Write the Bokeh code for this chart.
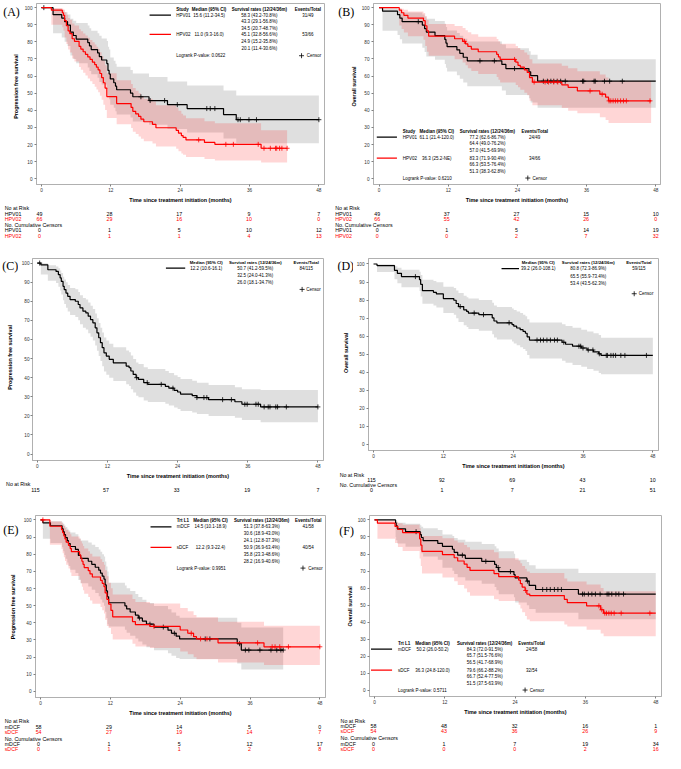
import numpy as np
from bokeh.plotting import figure
from bokeh.models import Range1d, FixedTicker
from bokeh.layouts import column, row
from bokeh.embed import file_html
from bokeh.resources import INLINE
from bokeh.core.properties import value

# ======================= DATA =======================
TICKS_X = [0, 12, 24, 36, 48]
TICKS_Y = [0, 10, 20, 30, 40, 50, 60, 70, 80, 90, 100]
XLABEL = "Time since treatment initiation (months)"
HEADERS_STUDY = ["Study", "Median (95% CI)", "Survival rates (12/24/36m)", "Events/Total"]
HEADERS_TRT = ["Trt L1", "Median (95% CI)", "Survival rates (12/24/36m)", "Events/Total"]
HEADERS_ONE = ["Median (95% CI)", "Survival rates (12/24/36m)", "Events/Total"]

# ---- Panel A : PFS by study ----
A_HPV01_T = [0, 2.0, 3.5, 4.0, 4.5, 5.0, 5.5, 6.0, 8.0, 8.3, 8.6, 9.7, 10.0, 10.4, 11.3, 11.5, 11.7, 11.9, 12.5, 12.8, 13.0, 15.4, 15.8, 18.6, 21.8, 25.2, 31.5, 33.7]
A_HPV01_S = [100, 95.9, 93.9, 91.8, 89.8, 85.7, 83.7, 81.6, 79.6, 77.6, 75.5, 73.5, 71.4, 69.4, 67.3, 63.3, 61.2, 58.3, 56.1, 54.1, 52.0, 50.0, 47.9, 45.7, 43.3, 41.0, 37.5, 34.5]
A_HPV01_LO = [100, 85.0, 82.5, 80.0, 77.5, 72.0, 70.0, 67.5, 65.0, 63.0, 61.0, 59.0, 56.5, 55.0, 52.5, 48.5, 46.5, 43.2, 41.5, 39.5, 37.5, 35.8, 33.5, 31.5, 29.1, 27.0, 23.5, 20.7]
A_HPV01_HI = [100, 99.4, 98.4, 97.3, 96.0, 93.5, 92.4, 91.0, 89.6, 88.0, 86.5, 85.0, 83.5, 82.0, 80.5, 77.2, 75.5, 70.8, 69.0, 67.2, 65.4, 63.5, 61.5, 59.4, 56.8, 54.5, 51.5, 48.7]
A_HPV01_END = 48.0
A_HPV01_CENS = [0.4, 17.2, 18.8, 21.3, 23.5, 28.6, 29.2, 30.0, 34.0, 34.4, 35.9, 37.2, 48.0]

A_HPV02_T = [0, 1.7, 3.6, 3.8, 4.0, 4.3, 4.6, 4.9, 5.3, 5.7, 6.5, 6.8, 7.2, 7.6, 8.0, 8.4, 8.8, 9.2, 9.5, 9.8, 10.1, 10.4, 10.7, 11.0, 11.3, 13.0, 15.5, 15.8, 16.3, 16.8, 17.2, 17.7, 19.2, 19.8, 23.3, 23.7, 24.2, 24.5, 25.0, 28.2, 30.0, 38.0]
A_HPV02_S = [100, 98.5, 97.0, 95.5, 92.4, 89.4, 86.4, 84.8, 81.8, 80.3, 77.3, 75.8, 74.2, 72.7, 71.2, 69.7, 68.2, 66.7, 65.2, 63.6, 61.5, 59.1, 56.1, 53.0, 48.0, 43.9, 41.7, 39.4, 37.9, 36.4, 34.8, 33.3, 31.8, 29.8, 28.3, 26.7, 25.2, 24.2, 22.7, 21.2, 20.1, 17.8]
A_HPV02_LO = [100, 90.0, 88.5, 86.5, 82.5, 78.8, 75.5, 73.7, 70.2, 68.5, 65.3, 63.7, 62.0, 60.3, 58.6, 57.0, 55.4, 53.8, 52.2, 50.6, 48.5, 46.1, 43.2, 40.2, 35.5, 31.8, 29.7, 27.5, 26.1, 24.7, 23.3, 21.9, 20.6, 18.8, 17.5, 16.1, 14.8, 14.0, 12.7, 11.5, 10.7, 9.5]
A_HPV02_HI = [100, 99.8, 99.4, 98.9, 97.5, 95.8, 94.0, 92.9, 90.7, 89.6, 87.3, 86.2, 84.9, 83.7, 82.4, 81.1, 79.8, 78.5, 77.2, 75.8, 73.9, 71.7, 69.0, 66.3, 61.7, 57.5, 55.3, 53.0, 51.4, 49.9, 48.2, 46.7, 45.1, 43.0, 41.5, 39.8, 38.0, 37.0, 35.3, 33.6, 32.4, 28.3]
A_HPV02_END = 42.5
A_HPV02_CENS = [27.2, 31.9, 33.2, 37.5, 38.5, 39.6, 40.5, 40.7, 41.2, 41.6, 42.5]

A_GROUPS = ["HPV01", "HPV02"]
A_MEDIAN = ["15.6 (11.2-34.5)", "11.0 (9.3-16.0)"]
A_RATES = [["58.3 (43.2-70.8%)", "43.3 (29.1-56.8%)", "34.5 (20.7-48.7%)"],
           ["45.1 (32.8-56.6%)", "24.9 (15.2-35.8%)", "20.1 (11.4-30.6%)"]]
A_EVENTS = ["31/49", "53/66"]
A_PVALUE = "Logrank P-value: 0.0622"
A_AT_RISK = [[49, 28, 17, 9, 7], [66, 29, 16, 10, 0]]
A_CUM_CENS = [[0, 1, 5, 10, 12], [0, 1, 1, 4, 13]]

# ---- Panel B : OS by study ----
B_HPV01_T = [0, 0.6, 3.2, 3.6, 4.0, 7.5, 7.9, 8.2, 9.7, 11.4, 11.6, 11.8, 13.5, 14.0, 14.6, 15.3, 21.3, 22.0, 26.0, 26.3, 27.5]
B_HPV01_S = [100, 97.9, 95.9, 93.9, 91.8, 89.8, 87.7, 85.7, 83.6, 81.4, 79.3, 77.2, 75.3, 73.3, 71.0, 68.9, 66.8, 64.4, 62.5, 60.2, 57.0]
B_HPV01_LO = [100, 86.5, 84.0, 81.5, 79.0, 76.5, 74.0, 71.5, 69.5, 67.0, 64.8, 62.6, 60.5, 58.5, 56.2, 54.0, 51.5, 49.0, 47.0, 44.5, 41.5]
B_HPV01_HI = [100, 99.7, 99.0, 98.1, 97.1, 96.0, 94.8, 93.5, 92.2, 90.6, 88.7, 86.7, 85.2, 83.6, 81.8, 80.2, 78.5, 76.2, 74.5, 72.5, 69.9]
B_HPV01_END = 48.0
B_HPV01_CENS = [6.8, 17.5, 20.0, 23.5, 28.5, 29.2, 29.8, 30.3, 30.9, 31.5, 32.3, 35.3, 35.5, 37.3, 37.5, 39.1, 40.0, 42.2]

B_HPV02_T = [0, 3.5, 3.9, 4.3, 5.0, 7.7, 8.0, 8.3, 8.6, 13.1, 14.5, 15.0, 15.4, 16.0, 17.2, 20.4, 20.7, 21.0, 23.7, 24.1, 24.5, 25.2, 25.7, 26.1, 26.6, 31.7, 32.8, 34.4, 38.3, 39.3, 39.8]
B_HPV02_S = [100, 98.5, 97.0, 95.5, 93.9, 92.4, 89.4, 86.4, 83.3, 81.8, 80.3, 78.8, 77.3, 75.8, 74.2, 72.7, 71.2, 69.7, 68.2, 66.3, 65.2, 63.6, 62.1, 59.1, 56.5, 54.9, 53.4, 51.3, 49.4, 47.7, 45.5]
B_HPV02_LO = [100, 89.5, 87.5, 85.5, 83.2, 81.2, 77.5, 74.2, 71.9, 69.8, 68.0, 66.3, 64.6, 63.0, 61.2, 59.5, 57.8, 56.2, 54.8, 53.5, 52.0, 50.3, 48.8, 45.6, 43.0, 41.3, 39.8, 38.3, 36.0, 34.3, 32.5]
B_HPV02_HI = [100, 99.8, 99.4, 98.8, 97.8, 96.8, 95.0, 92.8, 90.4, 89.3, 88.1, 86.8, 85.6, 84.4, 83.0, 81.6, 80.3, 78.9, 77.5, 76.4, 75.2, 73.8, 72.5, 69.8, 67.4, 66.0, 64.5, 62.8, 60.9, 59.2, 57.2]
B_HPV02_END = 47.2
B_HPV02_CENS = [14.8, 23.5, 26.9, 28.8, 29.4, 30.3, 31.0, 36.6, 38.7, 39.9, 40.2, 40.6, 41.0, 41.4, 41.9, 42.4, 42.9, 47.0]

B_GROUPS = ["HPV01", "HPV02"]
B_MEDIAN = ["61.1 (21.4-120.0)", "36.3 (25.2-NE)"]
B_RATES = [["77.2 (62.6-86.7%)", "64.4 (49.0-76.2%)", "57.0 (41.5-69.9%)"],
           ["83.3 (71.9-90.4%)", "66.3 (53.5-76.4%)", "51.3 (38.3-62.8%)"]]
B_EVENTS = ["24/49", "34/66"]
B_PVALUE = "Logrank P-value: 0.6210"
B_AT_RISK = [[49, 37, 27, 15, 10], [66, 55, 42, 26, 0]]
B_CUM_CENS = [[0, 1, 5, 14, 19], [0, 0, 2, 7, 32]]

# ---- Panel C : PFS overall ----
C_T = [0, 0.6, 1.8, 3.2, 3.6, 3.9, 4.1, 4.4, 4.6, 4.9, 5.2, 5.6, 6.5, 7.0, 7.3, 7.8, 8.3, 8.7, 9.1, 9.5, 9.9, 10.2, 10.5, 10.8, 11.1, 11.4, 11.8, 12.3, 13.0, 15.2, 15.7, 16.0, 16.4, 16.9, 17.3, 18.2, 18.9, 21.9, 22.5, 23.4, 24.0, 24.5, 26.5, 27.3, 29.3, 33.8, 35.0, 38.2]
C_S = [100, 99.1, 96.5, 95.6, 93.9, 92.2, 90.4, 87.8, 86.1, 84.3, 82.6, 80.9, 80.0, 78.3, 76.5, 74.8, 73.9, 72.2, 70.4, 68.7, 66.1, 63.5, 60.9, 58.3, 55.7, 53.0, 51.3, 49.6, 47.8, 46.1, 45.2, 43.5, 41.7, 40.0, 39.1, 37.4, 36.5, 35.5, 34.5, 33.4, 32.5, 31.4, 30.6, 29.6, 28.5, 27.4, 26.1, 24.7]
C_LO = [100, 94.0, 90.8, 89.6, 87.6, 85.6, 83.5, 80.5, 78.6, 76.6, 74.7, 72.8, 71.8, 70.0, 68.0, 66.1, 65.2, 63.3, 61.4, 59.5, 56.8, 54.1, 51.4, 48.7, 46.0, 43.3, 41.6, 39.9, 38.2, 36.5, 35.6, 33.9, 32.2, 30.6, 29.7, 28.1, 27.3, 26.3, 25.4, 24.4, 23.6, 22.6, 21.8, 21.0, 20.0, 19.0, 17.9, 16.7]
C_HI = [100, 99.9, 98.8, 98.2, 97.3, 96.1, 94.8, 92.8, 91.4, 89.9, 88.5, 87.0, 86.3, 84.8, 83.2, 81.7, 80.9, 79.3, 77.6, 76.0, 73.6, 71.1, 68.6, 66.1, 63.6, 61.0, 59.4, 57.7, 55.9, 54.2, 53.3, 51.6, 49.8, 48.0, 47.2, 45.4, 44.5, 43.5, 42.5, 41.3, 40.4, 39.3, 38.4, 37.4, 36.2, 35.0, 33.9, 33.5]
C_END = 48.0
C_CENS = [0.4, 17.0, 18.8, 21.2, 23.2, 27.3, 28.5, 29.0, 31.7, 33.2, 35.5, 35.9, 37.4, 37.8, 38.8, 39.5, 39.8, 40.8, 41.1, 42.6, 48.0]
C_MEDIAN = "12.2 (10.6-16.1)"
C_RATES = ["50.7 (41.2-59.5%)", "32.5 (24.0-41.3%)", "26.0 (18.1-34.7%)"]
C_EVENTS = "84/115"
C_AT_RISK = [115, 57, 33, 19, 7]

# ---- Panel D : OS overall ----
D_T = [0, 0.6, 3.6, 4.1, 4.8, 7.9, 8.1, 8.4, 10.3, 10.8, 12.0, 13.8, 14.2, 14.6, 15.5, 16.0, 16.3, 18.1, 20.4, 20.7, 21.2, 23.8, 24.1, 24.6, 25.2, 25.7, 26.1, 26.4, 26.8, 32.4, 33.0, 34.2, 35.7, 36.7, 37.8, 38.7, 39.1]
D_S = [100, 99.1, 96.5, 94.8, 93.0, 91.3, 88.7, 85.2, 84.3, 83.4, 80.8, 79.9, 78.1, 76.4, 74.6, 73.7, 72.8, 71.9, 70.1, 68.4, 67.4, 66.4, 65.5, 64.5, 63.6, 62.6, 61.6, 59.6, 57.8, 56.6, 55.5, 54.4, 53.4, 52.3, 51.3, 50.2, 49.3]
D_LO = [100, 95.5, 91.5, 89.3, 87.1, 85.0, 82.0, 78.0, 77.0, 75.9, 72.8, 71.8, 69.9, 67.9, 66.0, 65.0, 64.0, 63.0, 61.1, 59.2, 58.1, 57.0, 55.9, 54.9, 53.8, 52.8, 51.7, 49.6, 47.6, 46.3, 45.2, 44.0, 43.0, 41.8, 40.8, 39.6, 38.8]
D_HI = [100, 99.9, 98.8, 97.9, 96.8, 95.7, 93.9, 91.3, 90.6, 89.9, 87.4, 86.7, 85.3, 83.9, 82.4, 81.6, 80.9, 80.1, 78.5, 77.0, 76.2, 75.3, 74.5, 73.6, 72.8, 71.9, 71.0, 69.3, 67.6, 66.6, 65.6, 64.6, 63.6, 62.6, 61.6, 60.6, 59.1]
D_END = 48.0
D_CENS = [7.2, 14.9, 17.3, 18.9, 23.3, 28.1, 28.7, 29.2, 29.8, 30.4, 31.1, 31.6, 32.7, 35.3, 35.6, 36.0, 36.9, 37.7, 38.8, 40.0, 40.2, 40.8, 41.2, 41.6, 42.5, 43.2, 46.9]
D_MEDIAN = "39.2 (26.0-108.1)"
D_RATES = ["80.8 (72.3-86.9%)", "65.5 (55.9-73.4%)", "53.4 (43.5-62.3%)"]
D_EVENTS = "59/115"
D_AT_RISK = [115, 92, 69, 43, 10]
D_CUM_CENS = [0, 1, 7, 21, 51]

# ---- Panel E : PFS by first-line treatment ----
E_MDCF_T = [0, 0.4, 1.7, 3.7, 3.9, 4.1, 4.3, 4.6, 4.8, 5.1, 6.0, 6.5, 6.9, 8.2, 8.8, 9.4, 10.0, 10.3, 10.6, 10.9, 11.1, 11.3, 11.5, 11.7, 14.5, 14.8, 15.4, 16.3, 16.8, 17.5, 18.2, 19.5, 21.9, 22.5, 23.3, 23.9, 33.8, 34.5]
E_MDCF_S = [100, 98.3, 96.6, 94.8, 93.1, 91.4, 89.7, 87.9, 86.2, 84.5, 82.8, 79.3, 77.6, 75.9, 74.1, 72.4, 70.7, 69.0, 67.2, 65.5, 62.1, 58.6, 55.2, 51.7, 49.9, 48.1, 46.3, 44.5, 42.8, 41.0, 39.2, 37.5, 35.7, 33.9, 32.2, 30.6, 27.8, 24.1]
E_MDCF_LO = [100, 89.0, 86.5, 84.0, 81.8, 79.6, 77.4, 75.2, 73.1, 71.0, 69.0, 65.0, 63.1, 61.2, 59.3, 57.4, 55.5, 53.6, 51.8, 50.0, 46.4, 42.8, 39.2, 37.8, 36.0, 34.2, 32.5, 30.8, 29.1, 27.4, 25.7, 24.0, 22.3, 20.8, 19.4, 18.9, 16.3, 12.8]
E_MDCF_HI = [100, 99.8, 99.2, 98.5, 97.7, 96.8, 95.9, 94.9, 93.8, 92.7, 91.6, 89.2, 88.0, 86.8, 85.5, 84.2, 82.8, 81.4, 80.0, 78.6, 75.8, 72.9, 69.9, 63.3, 61.7, 60.1, 58.5, 56.8, 55.1, 53.4, 51.6, 49.8, 47.9, 46.0, 44.1, 43.0, 40.0, 37.3]
E_MDCF_END = 41.7
E_MDCF_CENS = [17.0, 18.8, 21.1, 23.0, 28.3, 29.1, 34.2, 35.2, 35.8, 37.7, 39.6, 40.6, 41.3, 41.7]

E_SDCF_T = [0, 1.6, 3.6, 3.8, 4.0, 4.2, 4.4, 4.8, 5.1, 5.3, 6.7, 6.9, 7.1, 7.3, 7.5, 8.2, 8.5, 8.9, 10.3, 10.6, 10.9, 11.1, 11.4, 11.7, 12.1, 12.4, 15.8, 16.3, 18.8, 24.0, 25.3, 26.3, 26.8, 30.5, 38.4]
E_SDCF_S = [100, 96.3, 94.4, 92.6, 90.7, 88.9, 87.0, 85.2, 83.3, 81.5, 79.6, 77.8, 75.9, 74.1, 72.2, 70.4, 68.5, 66.7, 64.8, 63.0, 61.1, 57.4, 53.7, 50.9, 47.2, 43.5, 40.7, 38.9, 37.9, 35.8, 33.9, 31.9, 30.6, 28.3, 26.0]
E_SDCF_LO = [100, 85.5, 83.0, 80.6, 78.3, 76.0, 73.8, 71.6, 69.4, 67.3, 65.2, 63.1, 61.0, 59.0, 57.0, 55.0, 53.0, 51.1, 49.2, 47.3, 45.4, 41.8, 38.2, 36.9, 33.5, 30.2, 27.8, 26.2, 25.3, 23.3, 21.6, 19.9, 18.8, 16.9, 15.4]
E_SDCF_HI = [100, 99.1, 98.3, 97.4, 96.4, 95.3, 94.1, 92.9, 91.6, 90.3, 89.0, 87.6, 86.2, 84.8, 83.3, 81.8, 80.3, 78.7, 77.1, 75.5, 73.9, 70.6, 67.2, 63.4, 60.1, 56.5, 53.9, 52.2, 51.2, 48.6, 46.7, 44.6, 43.3, 40.6, 38.3]
E_SDCF_END = 48.0
E_SDCF_CENS = [0.4, 19.5, 25.9, 27.5, 28.6, 37.3, 39.8, 40.3, 41.1, 42.6, 48.0]

E_GROUPS = ["mDCF", "sDCF"]
E_MEDIAN = ["14.5 (10.1-18.9)", "12.2 (9.3-22.4)"]
E_RATES = [["51.3 (37.8-63.3%)", "30.6 (18.9-43.0%)", "24.1 (12.8-37.3%)"],
           ["50.9 (36.9-63.4%)", "35.8 (23.3-48.6%)", "28.2 (16.9-40.6%)"]]
E_EVENTS = ["41/58", "40/54"]
E_PVALUE = "Logrank P-value: 0.9951"
E_AT_RISK = [[58, 29, 14, 5, 0], [54, 27, 19, 14, 7]]
E_CUM_CENS = [[0, 1, 5, 12, 17], [0, 1, 1, 2, 8]]

# ---- Panel F : OS by first-line treatment ----
F_MDCF_T = [0, 3.6, 3.7, 3.9, 5.3, 7.8, 8.0, 8.3, 10.8, 11.6, 13.3, 13.6, 14.2, 15.5, 18.3, 20.5, 20.8, 21.2, 23.8, 24.0, 26.0, 26.4, 27.5, 34.8]
F_MDCF_S = [100, 98.3, 96.6, 94.8, 93.1, 91.4, 89.7, 87.9, 86.2, 84.5, 82.8, 81.0, 79.3, 77.5, 75.7, 73.9, 72.1, 69.7, 67.9, 66.0, 64.1, 61.6, 59.2, 56.5]
F_MDCF_LO = [100, 90.0, 88.1, 86.2, 84.3, 82.4, 80.5, 78.6, 76.7, 72.0, 70.2, 68.3, 66.4, 64.5, 62.6, 60.7, 58.8, 56.4, 54.6, 51.5, 50.0, 47.8, 45.5, 41.7]
F_MDCF_HI = [100, 99.7, 99.1, 98.4, 97.7, 96.9, 96.0, 95.1, 94.1, 91.5, 90.5, 89.4, 88.3, 87.2, 85.9, 84.6, 83.3, 81.6, 80.2, 76.6, 75.3, 73.4, 71.4, 68.9]
F_MDCF_END = 48.0
F_MDCF_CENS = [7.1, 15.0, 19.0, 21.1, 23.2, 26.1, 28.7, 29.4, 30.0, 30.7, 31.3, 31.9, 35.5, 35.8, 36.5, 37.1, 37.7, 38.5, 39.7, 40.0, 40.5, 41.2, 41.7, 42.5]

F_SDCF_T = [0, 0.5, 3.5, 4.0, 4.8, 7.7, 7.9, 8.1, 11.6, 13.6, 14.2, 15.3, 15.8, 16.3, 20.4, 21.2, 24.6, 24.9, 25.2, 25.7, 26.0, 26.5, 32.4, 32.9, 36.2, 38.6, 39.1]
F_SDCF_S = [100, 98.1, 96.2, 94.4, 92.6, 88.9, 85.2, 81.5, 79.6, 77.8, 75.9, 74.1, 72.2, 70.4, 68.5, 66.7, 64.7, 62.6, 60.6, 58.6, 56.5, 55.6, 53.4, 51.5, 49.6, 47.3, 45.3]
F_SDCF_LO = [100, 89.0, 86.5, 84.1, 81.8, 77.3, 72.9, 68.6, 66.2, 64.0, 61.8, 59.7, 57.6, 55.5, 53.5, 52.4, 50.2, 48.0, 45.8, 43.7, 41.6, 40.6, 38.6, 37.5, 35.5, 33.4, 31.8]
F_SDCF_HI = [100, 99.7, 99.0, 98.1, 97.2, 95.1, 92.9, 90.6, 89.2, 88.0, 86.7, 85.3, 83.9, 82.5, 81.0, 77.5, 76.1, 74.6, 73.0, 71.4, 69.7, 68.9, 65.6, 63.9, 62.1, 60.0, 58.1]
F_SDCF_END = 48.0
F_SDCF_CENS = [25.8, 38.3, 38.8, 39.3, 39.6, 40.0, 40.4, 40.9, 42.1, 47.0]

F_GROUPS = ["mDCF", "sDCF"]
F_MEDIAN = ["50.2 (26.0-50.2)", "36.3 (24.8-120.0)"]
F_RATES = [["84.3 (72.0-91.5%)", "65.7 (51.5-76.6%)", "56.5 (41.7-68.9%)"],
           ["79.6 (66.2-88.2%)", "66.7 (52.4-77.5%)", "51.5 (37.5-63.9%)"]]
F_EVENTS = ["24/58", "32/54"]
F_PVALUE = "Logrank P-value: 0.5711"
F_AT_RISK = [[58, 48, 32, 16, 1], [54, 43, 36, 26, 9]]
F_CUM_CENS = [[0, 1, 7, 19, 34], [0, 0, 0, 2, 16]]

# ======================= STYLE / LAYOUT =======================
SX = 665 / 681
SY = 753 / 769
FONT = "Liberation Sans"
BLACK = "#000000"
RED = "#ff0000"
GRAY_BAND = "#7f7f7f"
FRAME = "#b0b0b0"


def bare(p):
    p.xaxis.visible = False
    p.yaxis.visible = False
    p.xgrid.visible = False
    p.ygrid.visible = False
    p.outline_line_color = None
    p.background_fill_color = "white"
    p.border_fill_color = "white"


def txt(p, xs, ys, texts, color=BLACK, align="left", bold=False, size="4.5px", angle=0.0,
        font=FONT, baseline="middle"):
    p.text(x=xs, y=ys, text=texts, text_font=value(font), text_font_size=size,
           text_align=align, text_baseline=baseline, text_color=color, angle=angle,
           text_font_style="bold" if bold else "normal")


def draw_band(p, t, lo, hi, end, color, alpha):
    tt = list(t) + [end]
    p.varea_step(x=tt, y1=list(lo) + [lo[-1]], y2=list(hi) + [hi[-1]], step_mode="after",
                 fill_color=color, fill_alpha=alpha)


def draw_curve(p, t, s, end, cens, color):
    tt = list(t) + [end]
    p.step(x=tt, y=list(s) + [s[-1]], mode="after", line_color=color, line_width=1.2)
    idx = np.searchsorted(np.array(t), np.array(cens), side="right") - 1
    cy = [s[i] for i in idx]
    p.scatter(x=cens, y=cy, marker="cross", size=5, line_color=color, line_width=0.8)


def legend_two(p, lg, headers, groups, medians, rates, events, pvalue):
    cx = lg["cols"]
    txt(p, [cx[0]], [lg["hy"]], [headers[0]], bold=True)
    txt(p, cx[1:], [lg["hy"]] * 3, headers[1:], align="center", bold=True)
    colors = [BLACK, RED]
    for gi in range(2):
        ys = lg["rows"][gi]
        p.line(x=list(lg["sample"]), y=[ys[0], ys[0]], line_color=colors[gi], line_width=1.3)
        txt(p, [cx[0]], [ys[0]], [groups[gi]])
        txt(p, [cx[1]], [ys[0]], [medians[gi]], align="center")
        txt(p, [cx[2]] * 3, ys, rates[gi], align="center")
        txt(p, [cx[3]], [ys[0]], [events[gi]], align="center")
    txt(p, [cx[0]], [lg["foot"]], [pvalue])
    p.scatter(x=[lg["cm"]], y=[lg["foot"]], marker="cross", size=5, line_color=BLACK, line_width=0.8)
    txt(p, [lg["ct"]], [lg["foot"]], ["Censor"])


def legend_one(p, lg, headers, median, rates, events):
    cx = lg["cols"]
    txt(p, cx, [lg["hy"]] * 3, headers, align="center", bold=True, size="4.3px")
    ys = lg["rows"]
    p.line(x=list(lg["sample"]), y=[ys[0], ys[0]], line_color=BLACK, line_width=1.3)
    txt(p, [cx[0]], [ys[0]], [median], align="center")
    txt(p, [cx[1]] * 3, ys, rates, align="center")
    txt(p, [cx[2]], [ys[0]], [events], align="center")
    p.scatter(x=[lg["cm"]], y=[lg["foot"]], marker="cross", size=5, line_color=BLACK, line_width=0.8)
    txt(p, [lg["ct"]], [lg["foot"]], ["Censor"])


def two_rows(groups, at_risk, cum):
    return [("No at Risk", None, BLACK),
            (groups[0], at_risk[0], BLACK), (groups[1], at_risk[1], RED),
            ("No. Cumulative Censors", None, BLACK),
            (groups[0], cum[0], BLACK), (groups[1], cum[1], RED)]


def build_panel(W, H, x0, x48, y100, y0, plot_bottom, Ls, ylabel, label, lab_x, lab_y, ylab_x,
                rows, rows_y, rowlab_x, top_pad=2.5, bot_pad=3.5, xpad=0.9, ystand=2):
    """All geometry arguments in reference pixels, local to the panel."""
    ppm = (x48 - x0) / 48.0
    ppu = (y0 - y100) / 100.0
    L, R = x0 - xpad * ppm, x48 + xpad * ppm
    T, B = y100 - top_pad * ppu, y0 + bot_pad * ppu
    Wp, Hp = round(W * SX), round(H * SY)
    Hpl = round(plot_bottom * SY)
    Lsp = round(Ls * SX)
    Lp, Rp, Tp, Bp = round(L * SX), round(R * SX), round(T * SY), round(B * SY)
    xs = (Lp - x0 * SX) / (ppm * SX)
    xe = (Rp - x0 * SX) / (ppm * SX)
    yt = 100 + (y100 * SY - Tp) / (ppu * SY)
    yb = (y0 * SY - Bp) / (ppu * SY)

    # --- main plot ---
    p = figure(width=Wp - Lsp, height=Hpl, x_range=Range1d(xs, xe), y_range=Range1d(yb, yt),
               output_backend="svg", toolbar_location=None,
               min_border_left=Lp - Lsp, min_border_right=Wp - Rp,
               min_border_top=Tp, min_border_bottom=Hpl - Bp)
    p.xgrid.visible = False
    p.ygrid.visible = False
    p.outline_line_color = FRAME
    p.background_fill_color = "white"
    p.border_fill_color = "white"
    p.xaxis.ticker = FixedTicker(ticks=TICKS_X)
    p.yaxis.ticker = FixedTicker(ticks=TICKS_Y)
    p.xaxis.axis_label = XLABEL
    for ax in (p.xaxis, p.yaxis):
        ax.axis_line_color = FRAME
        ax.major_tick_line_color = "#808080"
        ax.major_tick_out = 2
        ax.major_tick_in = 0
        ax.minor_tick_line_color = None
        ax.major_label_text_font = FONT
        ax.major_label_text_font_size = "4.7px"
        ax.major_label_text_color = "#333333"
        ax.axis_label_text_font = FONT
        ax.axis_label_text_font_size = "5.4px"
        ax.axis_label_text_font_style = "bold"
        ax.axis_label_text_color = BLACK
    p.xaxis.major_label_standoff = 1
    p.xaxis.axis_label_standoff = 2
    p.yaxis.major_label_standoff = ystand

    # --- left strip: panel letter + y-axis title (same vertical data mapping as the plot) ---
    s_top = 100 + y100 / ppu
    s_bot = 100 - (Hpl / SY - y100) / ppu
    st = figure(width=Lsp, height=Hpl, x_range=Range1d(0, Lsp / SX), y_range=Range1d(s_bot, s_top),
                output_backend="svg", toolbar_location=None,
                min_border_left=0, min_border_right=0, min_border_top=0, min_border_bottom=0)
    bare(st)
    txt(st, [lab_x], [100 + (y100 - lab_y) / ppu], [label], size="12px",
        font="Liberation Serif", baseline="top")
    txt(st, [ylab_x], [(yb + yt) / 2.0], [ylabel], align="center", bold=True, size="5.4px",
        angle=np.pi / 2)

    # --- risk table below, x aligned with the plot's month scale ---
    ppm_s = (Rp - Lp) / (xe - xs)
    rk = figure(width=Wp, height=Hp - Hpl,
                x_range=Range1d(xs - Lp / ppm_s, xs + (Wp - Lp) / ppm_s),
                y_range=Range1d(Hp / SY, Hpl / SY),
                output_backend="svg", toolbar_location=None,
                min_border_left=0, min_border_right=0, min_border_top=0, min_border_bottom=0)
    bare(rk)
    lab_month = xs + (rowlab_x * SX - Lp) / ppm_s
    for (lab, vals, col), ry in zip(rows, rows_y):
        if lab:
            txt(rk, [lab_month], [ry], [lab], color=col, size="5.3px")
        if vals is not None:
            txt(rk, TICKS_X, [ry] * len(TICKS_X), [str(v) for v in vals], color=col,
                align="center", size="5.3px")

    return p, column(row(st, p), rk)


# ---------------- Panel A ----------------
pA, lA = build_panel(340, 250, 40, 326, 7.3, 183, 209.5, 21, "Progression free survival", "(A)",
                     2.7, 1.6, 16.0, two_rows(A_GROUPS, A_AT_RISK, A_CUM_CENS),
                     [212, 217.6, 223.2, 229, 234.8, 240.5], 4.3)
draw_band(pA, A_HPV01_T, A_HPV01_LO, A_HPV01_HI, A_HPV01_END, GRAY_BAND, 0.25)
draw_band(pA, A_HPV02_T, A_HPV02_LO, A_HPV02_HI, A_HPV02_END, RED, 0.16)
draw_curve(pA, A_HPV01_T, A_HPV01_S, A_HPV01_END, A_HPV01_CENS, BLACK)
draw_curve(pA, A_HPV02_T, A_HPV02_S, A_HPV02_END, A_HPV02_CENS, RED)
legend_two(pA, dict(cols=[23.3, 29.0, 37.7, 46.1], hy=98.9,
                    rows=[[95.6, 91.8, 88.0], [84.4, 80.3, 76.1]], foot=71.9,
                    sample=(18.7, 22.4), cm=45.0, ct=45.9),
           HEADERS_STUDY, A_GROUPS, A_MEDIAN, A_RATES, A_EVENTS, A_PVALUE)

# ---------------- Panel B ----------------
pB, lB = build_panel(341, 250, 45.7, 331, 7.3, 183, 209.5, 27, "Overall survival", "(B)",
                     6.0, 1.6, 21.7, two_rows(B_GROUPS, B_AT_RISK, B_CUM_CENS),
                     [212, 217.6, 223.2, 229, 234.8, 240.5], 2.7)
draw_band(pB, B_HPV01_T, B_HPV01_LO, B_HPV01_HI, B_HPV01_END, GRAY_BAND, 0.25)
draw_band(pB, B_HPV02_T, B_HPV02_LO, B_HPV02_HI, B_HPV02_END, RED, 0.16)
draw_curve(pB, B_HPV01_T, B_HPV01_S, B_HPV01_END, B_HPV01_CENS, BLACK)
draw_curve(pB, B_HPV02_T, B_HPV02_S, B_HPV02_END, B_HPV02_CENS, RED)
legend_two(pB, dict(cols=[4.1, 10.0, 18.8, 27.0], hy=27.7,
                    rows=[[24.3, 20.5, 16.5], [12.0, 8.3, 4.4]], foot=0.4,
                    sample=(-0.4, 3.1), cm=25.8, ct=26.6),
           HEADERS_STUDY, B_GROUPS, B_MEDIAN, B_RATES, B_EVENTS, B_PVALUE)

# ---------------- Panel C ----------------
pC, lC = build_panel(340, 255, 35.7, 325, 18, 216, 241.5, 18.5, "Progression free survival", "(C)",
                     1.8, 0.5, 10.0, [("No at Risk", None, BLACK), (None, C_AT_RISK, BLACK)],
                     [244, 249.3], 5.7, ystand=1)
draw_band(pC, C_T, C_LO, C_HI, C_END, GRAY_BAND, 0.25)
draw_curve(pC, C_T, C_S, C_END, C_CENS, BLACK)
legend_one(pC, dict(cols=[28.9, 37.3, 46.0], hy=100.2, rows=[97.3, 93.4, 89.7], foot=86.2,
                    sample=(22.0, 25.3), cm=45.3, ct=46.0),
           HEADERS_ONE, C_MEDIAN, C_RATES, C_EVENTS)

# ---------------- Panel D ----------------
pD, lD = build_panel(341, 255, 40, 328, 19, 207, 231, 22, "Overall survival", "(D)",
                     5.0, 0.5, 14.0, [("No at Risk", None, BLACK), (None, D_AT_RISK, BLACK),
                                      ("No. Cumulative Censors", None, BLACK), (None, D_CUM_CENS, BLACK)],
                     [234.3, 239.3, 244.2, 249.3], 7.3, top_pad=3.0)
draw_band(pD, D_T, D_LO, D_HI, D_END, GRAY_BAND, 0.25)
draw_curve(pD, D_T, D_S, D_END, D_CENS, BLACK)
legend_one(pD, dict(cols=[28.3, 36.9, 45.6], hy=100.6, rows=[97.4, 93.3, 89.4], foot=83.5,
                    sample=(22.0, 25.0), cm=44.8, ct=45.6),
           HEADERS_ONE, D_MEDIAN, D_RATES, D_EVENTS)

# ---------------- Panel E ----------------
pE, lE = build_panel(340, 264, 39, 327, 25, 202, 228, 20, "Progression free survival", "(E)",
                     2.7, 10.0, 13.3, two_rows(E_GROUPS, E_AT_RISK, E_CUM_CENS),
                     [230.7, 236.2, 241.8, 248.3, 253.9, 259.3], 4.3)
draw_band(pE, E_MDCF_T, E_MDCF_LO, E_MDCF_HI, E_MDCF_END, GRAY_BAND, 0.25)
draw_band(pE, E_SDCF_T, E_SDCF_LO, E_SDCF_HI, E_SDCF_END, RED, 0.16)
draw_curve(pE, E_MDCF_T, E_MDCF_S, E_MDCF_END, E_MDCF_CENS, BLACK)
draw_curve(pE, E_SDCF_T, E_SDCF_S, E_SDCF_END, E_SDCF_CENS, RED)
legend_two(pE, dict(cols=[23.4, 29.2, 38.0, 46.0], hy=99.4,
                    rows=[[96.0, 92.1, 88.1], [84.0, 80.0, 76.0]], foot=71.9,
                    sample=(18.9, 22.5), cm=45.1, ct=46.0),
           HEADERS_TRT, E_GROUPS, E_MEDIAN, E_RATES, E_EVENTS, E_PVALUE)

# ---------------- Panel F ----------------
pF, lF = build_panel(341, 264, 42, 331, 25, 201, 227, 23, "Overall survival", "(F)",
                     7.0, 11.0, 18.3, two_rows(F_GROUPS, F_AT_RISK, F_CUM_CENS),
                     [230.0, 235.4, 241.0, 247.7, 253.3, 258.7], 8.3)
draw_band(pF, F_MDCF_T, F_MDCF_LO, F_MDCF_HI, F_MDCF_END, GRAY_BAND, 0.25)
draw_band(pF, F_SDCF_T, F_SDCF_LO, F_SDCF_HI, F_SDCF_END, RED, 0.16)
draw_curve(pF, F_MDCF_T, F_MDCF_S, F_MDCF_END, F_MDCF_CENS, BLACK)
draw_curve(pF, F_SDCF_T, F_SDCF_S, F_SDCF_END, F_SDCF_CENS, RED)
legend_two(pF, dict(cols=[4.0, 9.9, 18.8, 26.8], hy=27.4,
                    rows=[[24.2, 20.4, 16.4], [11.9, 8.1, 4.3]], foot=0.2,
                    sample=(-0.6, 3.0), cm=25.7, ct=26.5),
           HEADERS_TRT, F_GROUPS, F_MEDIAN, F_RATES, F_EVENTS, F_PVALUE)

layout = column(row(lA, lB), row(lC, lD), row(lE, lF))
open("out.html", "w").write(file_html(layout, INLINE))
